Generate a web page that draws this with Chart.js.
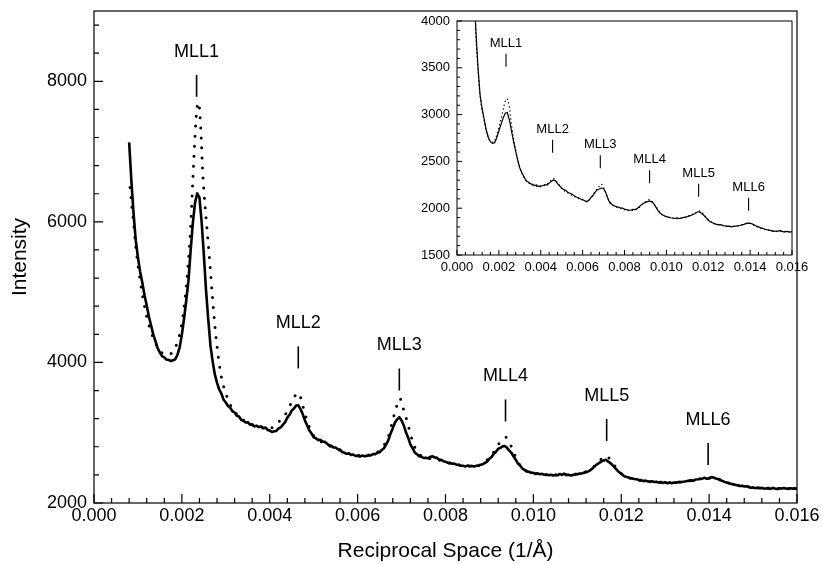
<!DOCTYPE html>
<html>
<head>
<meta charset="utf-8">
<script src="https://cdn.jsdelivr.net/npm/chart.js@4.4.1/dist/chart.umd.min.js"></script>
<style>
  html, body { margin: 0; padding: 0; background: #fff; }
  #wrap { position: relative; width: 822px; height: 564px; overflow: hidden; background: #fff; }
  #main { position: absolute; left: 0; top: 0; }
  #inset { position: absolute; left: 390px; top: 8px; }
</style>
</head>
<body>
<div id="wrap">
  <canvas id="main" width="822" height="564"></canvas>
  <canvas id="inset" width="420" height="280"></canvas>
</div>
<script>
// ---- Main scan: measured intensity (solid) ----
const mainQ = [
  0.0008,0.00085,0.0009,0.00095,0.001,0.00105,0.0011,0.00115,0.0012,0.00125,
  0.0013,0.00135,0.0014,0.00145,0.0015,0.00155,0.0016,0.00165,0.0017,0.00175,
  0.0018,0.00185,0.0019,0.00195,0.002,0.00205,0.0021,0.00215,0.0022,0.00225,
  0.0023,0.00235,0.0024,0.00245,0.0025,0.00255,0.0026,0.00265,0.0027,0.00275,
  0.0028,0.00285,0.0029,0.00295,0.003,0.00305,0.0031,0.00315,0.0032,0.00325,
  0.0033,0.00335,0.0034,0.00345,0.0035,0.00355,0.0036,0.00365,0.0037,0.00375,
  0.0038,0.00385,0.0039,0.00395,0.004,0.00405,0.0041,0.00415,0.0042,0.00425,
  0.0043,0.00435,0.0044,0.00445,0.0045,0.00455,0.0046,0.00465,0.0047,0.00475,
  0.0048,0.00485,0.0049,0.00495,0.005,0.00505,0.0051,0.00515,0.0052,0.00525,
  0.0053,0.00535,0.0054,0.00545,0.0055,0.00555,0.0056,0.00565,0.0057,0.00575,
  0.0058,0.00585,0.0059,0.00595,0.006,0.00605,0.0061,0.00615,0.0062,0.00625,
  0.0063,0.00635,0.0064,0.00645,0.0065,0.00655,0.0066,0.00665,0.0067,0.00675,
  0.0068,0.00685,0.0069,0.00695,0.007,0.00705,0.0071,0.00715,0.0072,0.00725,
  0.0073,0.00735,0.0074,0.00745,0.0075,0.00755,0.0076,0.00765,0.0077,0.00775,
  0.0078,0.00785,0.0079,0.00795,0.008,0.00805,0.0081,0.00815,0.0082,0.00825,
  0.0083,0.00835,0.0084,0.00845,0.0085,0.00855,0.0086,0.00865,0.0087,0.00875,
  0.0088,0.00885,0.0089,0.00895,0.009,0.00905,0.0091,0.00915,0.0092,0.00925,
  0.0093,0.00935,0.0094,0.00945,0.0095,0.00955,0.0096,0.00965,0.0097,0.00975,
  0.0098,0.00985,0.0099,0.00995,0.01,0.01005,0.0101,0.01015,0.0102,0.01025,
  0.0103,0.01035,0.0104,0.01045,0.0105,0.01055,0.0106,0.01065,0.0107,0.01075,
  0.0108,0.01085,0.0109,0.01095,0.011,0.01105,0.0111,0.01115,0.0112,0.01125,
  0.0113,0.01135,0.0114,0.01145,0.0115,0.01155,0.0116,0.01165,0.0117,0.01175,
  0.0118,0.01185,0.0119,0.01195,0.012,0.01205,0.0121,0.01215,0.0122,0.01225,
  0.0123,0.01235,0.0124,0.01245,0.0125,0.01255,0.0126,0.01265,0.0127,0.01275,
  0.0128,0.01285,0.0129,0.01295,0.013,0.01305,0.0131,0.01315,0.0132,0.01325,
  0.0133,0.01335,0.0134,0.01345,0.0135,0.01355,0.0136,0.01365,0.0137,0.01375,
  0.0138,0.01385,0.0139,0.01395,0.014,0.01405,0.0141,0.01415,0.0142,0.01425,
  0.0143,0.01435,0.0144,0.01445,0.0145,0.01455,0.0146,0.01465,0.0147,0.01475,
  0.0148,0.01485,0.0149,0.01495,0.015,0.01505,0.0151,0.01515,0.0152,0.01525,
  0.0153,0.01535,0.0154,0.01545,0.0155,0.01555,0.0156,0.01565,0.0157,0.01575,
  0.0158,0.01585,0.0159,0.01595,0.016
];
const mainIntensity = [
  7130,6590,6120,5740,5495,5290,5135,4955,4810,4650,
  4525,4395,4300,4200,4140,4090,4070,4040,4038,4020,
  4030,4045,4110,4215,4395,4625,4885,5165,5595,5985,
  6275,6405,6345,5995,5535,5025,4615,4245,4015,3830,
  3710,3615,3555,3470,3430,3380,3355,3305,3290,3240,
  3230,3185,3170,3145,3150,3115,3120,3090,3100,3080,
  3090,3065,3075,3040,3030,3010,3020,3025,3060,3075,
  3115,3150,3215,3255,3315,3345,3385,3390,3335,3265,
  3175,3105,3035,2990,2935,2920,2895,2900,2875,2870,
  2845,2820,2815,2790,2790,2765,2760,2725,2715,2700,
  2705,2685,2690,2670,2672,2660,2675,2665,2670,2680,
  2678,2695,2695,2715,2722,2755,2780,2835,2895,2990,
  3065,3145,3190,3220,3175,3105,3005,2930,2835,2780,
  2720,2695,2665,2660,2640,2645,2635,2655,2665,2648,
  2645,2620,2615,2595,2588,2572,2572,2558,2560,2545,
  2545,2530,2530,2520,2532,2522,2528,2518,2530,2530,
  2545,2552,2572,2590,2630,2655,2700,2730,2772,2785,
  2806,2810,2785,2745,2715,2660,2615,2560,2530,2490,
  2472,2450,2445,2430,2428,2415,2422,2410,2415,2402,
  2405,2395,2402,2390,2400,2395,2412,2400,2418,2400,
  2402,2392,2400,2405,2410,2418,2420,2432,2438,2450,
  2468,2495,2525,2550,2570,2592,2605,2615,2590,2570,
  2540,2505,2470,2440,2415,2390,2372,2365,2355,2350,
  2342,2338,2328,2325,2312,2318,2310,2302,2308,2298,
  2302,2292,2300,2285,2295,2282,2290,2280,2292,2290,
  2298,2295,2302,2305,2312,2318,2322,2318,2335,2338,
  2342,2348,2358,2345,2350,2368,2362,2348,2340,2325,
  2315,2300,2292,2282,2272,2265,2258,2252,2242,2245,
  2235,2238,2228,2218,2222,2212,2216,2210,2215,2205,
  2208,2212,2200,2215,2205,2198,2210,2205,2212,2206,
  2200,2210,2205,2208,2204
];

// ---- Main scan: model curve (dotted) ----
const fitQ = [
  0.00082,0.00086,0.0009,0.00095,0.001,0.0011,0.0012,0.0013,0.0014,0.0015,
  0.0016,0.0017,0.0018,0.0019,0.00195,0.002,0.00205,0.0021,0.00215,0.0022,
  0.00225,0.0023,0.00234,0.00237,0.0024,0.00244,0.00247,0.0025,0.00255,0.0026,
  0.00265,0.0027,0.00275,0.0028,0.00285,0.0029,0.00295,0.003,0.0031,0.0032,
  0.0033,0.0034,0.0035,0.0036,0.0037,0.0038,0.0039,0.004,0.0041,0.0042,
  0.0043,0.0044,0.00451,0.0046,0.00466,0.00474,0.00482,0.0049,0.005,0.0051,
  0.0052,0.0054,0.0056,0.0058,0.006,0.0062,0.0064,0.00655,0.0067,0.0068,
  0.00687,0.00696,0.00703,0.00711,0.00717,0.00725,0.00735,0.00745,0.0076,0.0078,
  0.008,0.0083,0.0086,0.00885,0.009,0.0091,0.0092,0.0093,0.00937,0.00944,
  0.0095,0.0096,0.0097,0.0098,0.01,0.0105,0.011,0.0113,0.0115,0.01162,
  0.01172,0.01185,0.012,0.0122,0.0125,0.013,0.0135,0.01395,0.0142,0.0145,
  0.015,0.0155,0.016
];
const fitIntensity = [
  6490,6230,5990,5650,5390,4970,4650,4430,4275,4170,
  4115,4110,4160,4290,4400,4560,4790,5080,5450,5940,
  6600,7230,7600,7700,7620,7200,6750,6450,6060,5690,
  5310,4900,4530,4230,3980,3790,3660,3560,3400,3300,
  3230,3180,3140,3110,3090,3075,3065,3060,3090,3150,
  3230,3300,3456,3545,3565,3410,3230,3080,2960,2900,
  2860,2800,2750,2705,2680,2680,2710,2780,2950,3180,
  3340,3490,3360,3200,3060,2880,2730,2670,2640,2620,
  2580,2540,2525,2560,2650,2730,2830,2910,2935,2890,
  2800,2650,2530,2470,2425,2400,2415,2480,2590,2670,
  2640,2530,2420,2355,2315,2292,2310,2355,2345,2275,
  2222,2208,2205
];

// ---- Inset scan: measured intensity (solid) ----
const insetQ = [
  0.0008,0.0009,0.001,0.0011,0.0012,0.0013,0.0014,0.0015,0.0016,0.0017,
  0.0018,0.0019,0.002,0.0021,0.0022,0.0023,0.0024,0.0025,0.0026,0.0027,
  0.0028,0.0029,0.003,0.0031,0.0032,0.0033,0.0034,0.0035,0.0036,0.0037,
  0.0038,0.0039,0.004,0.0041,0.0042,0.0043,0.0044,0.0045,0.0046,0.0047,
  0.0048,0.0049,0.005,0.0051,0.0052,0.0053,0.0054,0.0055,0.0056,0.0057,
  0.0058,0.0059,0.006,0.0061,0.0062,0.0063,0.0064,0.0065,0.0066,0.0067,
  0.0068,0.0069,0.007,0.0071,0.0072,0.0073,0.0074,0.0075,0.0076,0.0077,
  0.0078,0.0079,0.008,0.0081,0.0082,0.0083,0.0084,0.0085,0.0086,0.0087,
  0.0088,0.0089,0.009,0.0091,0.0092,0.0093,0.0094,0.0095,0.0096,0.0097,
  0.0098,0.0099,0.01,0.0101,0.0102,0.0103,0.0104,0.0105,0.0106,0.0107,
  0.0108,0.0109,0.011,0.0111,0.0112,0.0113,0.0114,0.0115,0.0116,0.0117,
  0.0118,0.0119,0.012,0.0121,0.0122,0.0123,0.0124,0.0125,0.0126,0.0127,
  0.0128,0.0129,0.013,0.0131,0.0132,0.0133,0.0134,0.0135,0.0136,0.0137,
  0.0138,0.0139,0.014,0.0141,0.0142,0.0143,0.0144,0.0145,0.0146,0.0147,
  0.0148,0.0149,0.015,0.0151,0.0152,0.0153,0.0154,0.0155,0.0156,0.0157,
  0.0158,0.0159,0.016
];
const insetIntensity = [
  4450,3900,3510,3215,3060,2950,2830,2755,2708,2692,
  2700,2755,2825,2895,2960,3015,3022,2945,2830,2715,
  2610,2515,2430,2378,2335,2292,2280,2262,2255,2242,
  2248,2232,2238,2240,2252,2248,2268,2285,2300,2295,
  2262,2240,2215,2198,2190,2168,2160,2150,2132,2120,
  2112,2098,2092,2080,2068,2085,2115,2138,2172,2198,
  2205,2215,2208,2170,2105,2058,2040,2025,2018,2012,
  2002,2000,1992,1985,1980,1978,1988,1985,1995,2015,
  2035,2050,2062,2070,2078,2068,2048,2012,1975,1948,
  1930,1920,1910,1905,1898,1895,1890,1896,1888,1895,
  1900,1905,1910,1918,1925,1935,1948,1962,1958,1940,
  1922,1898,1870,1855,1845,1835,1828,1822,1825,1815,
  1812,1806,1808,1800,1806,1808,1812,1815,1822,1828,
  1835,1840,1838,1832,1820,1808,1800,1790,1785,1775,
  1770,1765,1760,1752,1756,1750,1762,1755,1748,1750,
  1752,1745,1750
];

// ---- Inset scan: model curve (dotted) ----
const insetFitQ = [
  0.00085,0.0009,0.001,0.0011,0.0012,0.0013,0.0014,0.0015,0.0016,0.0017,
  0.0018,0.0019,0.002,0.0021,0.0022,0.0023,0.00238,0.0025,0.0026,0.0027,
  0.0028,0.0029,0.003,0.0032,0.0034,0.0036,0.0038,0.004,0.0042,0.0044,
  0.0046,0.0048,0.005,0.0054,0.0058,0.0062,0.0064,0.0066,0.0068,0.0069,
  0.007,0.0072,0.0074,0.0078,0.0082,0.0086,0.0089,0.0092,0.0095,0.0098,
  0.0102,0.0106,0.011,0.0113,0.0116,0.0119,0.0122,0.0126,0.013,0.0135,
  0.0139,0.0143,0.0148,0.0154,0.016
];
const insetFitIntensity = [
  4300,3880,3500,3205,3050,2940,2825,2750,2712,2705,
  2720,2780,2860,2950,3050,3140,3170,3080,2900,2740,
  2620,2515,2430,2330,2275,2248,2235,2230,2245,2275,
  2315,2270,2210,2150,2105,2075,2110,2180,2235,2255,
  2225,2110,2040,2000,1975,1990,2050,2090,2015,1930,
  1898,1890,1910,1940,1970,1900,1845,1820,1805,1815,
  1842,1805,1768,1752,1748
];

// ---- Axis ticks and peak markers ----
const qTicks = [0, 0.002, 0.004, 0.006, 0.008, 0.010, 0.012, 0.014, 0.016];
const mainIntensityTicks = [2000, 4000, 6000, 8000];
const insetIntensityTicks = [1500, 2000, 2500, 3000, 3500, 4000];
const peakNames = ['MLL1', 'MLL2', 'MLL3', 'MLL4', 'MLL5', 'MLL6'];
const mainPeakQ = [0.002335, 0.004649, 0.006949, 0.009366, 0.011668, 0.013977];
const mainMarkBase = [7779, 3915, 3601, 3160, 2883, 2541];
const insetPeakQ = [0.00234, 0.004566, 0.006844, 0.009199, 0.01154, 0.013927];
const insetMarkBase = [3512, 2593, 2426, 2266, 2123, 1973];

const FONT = '"Liberation Sans", Arial, Helvetica, sans-serif';
Chart.defaults.font.family = FONT;
Chart.defaults.color = '#000';

const toPoints = (xs, ys) => xs.map((x, i) => ({ x, y: ys[i] }));

// Frame plus inward-pointing major/minor ticks
const axisFrame = {
  id: 'axisFrame',
  beforeDatasetsDraw(chart, args, o) {
    if (!o.fill) return;
    const { ctx, chartArea: a } = chart;
    ctx.save();
    ctx.fillStyle = o.fill;
    ctx.fillRect(a.left, a.top, a.right - a.left, a.bottom - a.top);
    ctx.restore();
  },
  afterDatasetsDraw(chart, args, o) {
    const { ctx, chartArea: a, scales: { x, y } } = chart;
    ctx.save();
    ctx.strokeStyle = '#000';
    ctx.lineWidth = o.frameWidth;
    ctx.strokeRect(a.left, a.top, a.right - a.left, a.bottom - a.top);
    ctx.lineWidth = o.tickWidth;
    ctx.beginPath();
    const xStep = (o.xTicks[1] - o.xTicks[0]) / o.minorDiv;
    for (let k = 0; o.xTicks[0] + k * xStep <= x.max + xStep * 1e-3; k++) {
      const px = x.getPixelForValue(o.xTicks[0] + k * xStep);
      const len = k % o.minorDiv === 0 ? o.major : o.minor;
      ctx.moveTo(px, a.bottom);
      ctx.lineTo(px, a.bottom - len);
    }
    const yStep = (o.yTicks[1] - o.yTicks[0]) / o.minorDiv;
    for (let k = 0; o.yTicks[0] + k * yStep <= y.max + yStep * 1e-3; k++) {
      const py = y.getPixelForValue(o.yTicks[0] + k * yStep);
      const len = k % o.minorDiv === 0 ? o.major : o.minor;
      ctx.moveTo(a.left, py);
      ctx.lineTo(a.left + len, py);
    }
    ctx.stroke();
    ctx.restore();
  }
};

// Peak markers: short vertical bar with the reflection name above it
const peakMarks = {
  id: 'peakMarks',
  afterDatasetsDraw(chart, args, o) {
    const { ctx, scales: { x, y } } = chart;
    ctx.save();
    ctx.strokeStyle = '#000';
    ctx.fillStyle = '#000';
    ctx.lineWidth = o.lineWidth;
    ctx.font = o.fontSize + 'px ' + FONT;
    ctx.textAlign = 'center';
    ctx.textBaseline = 'alphabetic';
    o.q.forEach((q, i) => {
      const px = x.getPixelForValue(q);
      const pb = y.getPixelForValue(o.base[i]);
      ctx.beginPath();
      ctx.moveTo(px, pb);
      ctx.lineTo(px, pb - o.length);
      ctx.stroke();
      ctx.fillText(o.names[i], px, pb - o.length - o.gap);
    });
    ctx.restore();
  }
};

// Fixed-size axis boxes; label overhang is kept out of the plot-area layout
function axisScale(min, max, ticksArr, fmt, fontSize, pad, size, title) {
  return {
    type: 'linear',
    min, max,
    afterBuildTicks: (s) => { s.ticks = ticksArr.map(v => ({ value: v })); },
    afterFit: (s) => {
      if (s.isHorizontal()) s.height = size; else s.width = size;
      s.paddingTop = 0; s.paddingBottom = 0; s.paddingLeft = 0; s.paddingRight = 0;
    },
    grid: { display: false, drawTicks: false },
    border: { display: false },
    ticks: {
      autoSkip: false, maxRotation: 0, minRotation: 0,
      padding: pad, color: '#000',
      font: { size: fontSize },
      callback: fmt
    },
    title: title || { display: false }
  };
}

// Main chart
new Chart(document.getElementById('main'), {
  type: 'line',
  data: {
    datasets: [
      {
        data: toPoints(mainQ, mainIntensity),
        borderColor: '#000', borderWidth: 2.6, pointRadius: 0,
        tension: 0, borderJoinStyle: 'round', fill: false
      },
      {
        data: toPoints(fitQ, fitIntensity),
        borderColor: '#000', borderWidth: 3, pointRadius: 0,
        borderDash: [0, 10], borderCapStyle: 'round',
        cubicInterpolationMode: 'monotone', fill: false
      }
    ]
  },
  options: {
    responsive: false, animation: false, devicePixelRatio: 1, events: [],
    layout: { padding: { left: 0, right: 25, top: 11, bottom: 0 } },
    plugins: {
      legend: { display: false }, tooltip: { enabled: false },
      axisFrame: { frameWidth: 1.2, tickWidth: 1.2, major: 9, minor: 5, minorDiv: 5,
                   xTicks: qTicks, yTicks: mainIntensityTicks },
      peakMarks: { q: mainPeakQ, base: mainMarkBase, names: peakNames,
                   length: 22, gap: 18, lineWidth: 1.6, fontSize: 18 }
    },
    scales: {
      x: axisScale(0, 0.016, qTicks, v => v.toFixed(3), 18, 2.5, 61,
        { display: true, text: 'Reciprocal Space (1/\u00C5)', font: { size: 21 },
          padding: { top: 0, bottom: 0 }, color: '#000' }),
      y: axisScale(2000, 9000, mainIntensityTicks, v => String(v), 18, 7, 94,
        { display: true, text: 'Intensity', font: { size: 21 },
          padding: { top: 8, bottom: 0 }, color: '#000' })
    }
  },
  plugins: [axisFrame, peakMarks]
});

// Inset chart
new Chart(document.getElementById('inset'), {
  type: 'line',
  data: {
    datasets: [
      {
        data: toPoints(insetQ, insetIntensity),
        borderColor: '#000', borderWidth: 1.2, pointRadius: 0,
        tension: 0, fill: false
      },
      {
        data: toPoints(insetFitQ, insetFitIntensity),
        borderColor: '#000', borderWidth: 1.5, pointRadius: 0,
        borderDash: [0, 4], borderCapStyle: 'round',
        cubicInterpolationMode: 'monotone', fill: false
      }
    ]
  },
  options: {
    responsive: false, animation: false, devicePixelRatio: 1, events: [],
    layout: { padding: { left: 0, right: 18, top: 13, bottom: 0 } },
    plugins: {
      legend: { display: false }, tooltip: { enabled: false },
      axisFrame: { fill: '#fff', frameWidth: 1, tickWidth: 1, major: 5, minor: 3, minorDiv: 5,
                   xTicks: qTicks, yTicks: insetIntensityTicks },
      peakMarks: { q: insetPeakQ, base: insetMarkBase, names: peakNames,
                   length: 13, gap: 7, lineWidth: 1.1, fontSize: 13 }
    },
    scales: {
      x: axisScale(0, 0.016, qTicks, v => v.toFixed(3), 13, 5, 33),
      y: axisScale(1500, 4000, insetIntensityTicks, v => String(v), 13, 7, 67)
    }
  },
  plugins: [axisFrame, peakMarks]
});
</script>
</body>
</html>
